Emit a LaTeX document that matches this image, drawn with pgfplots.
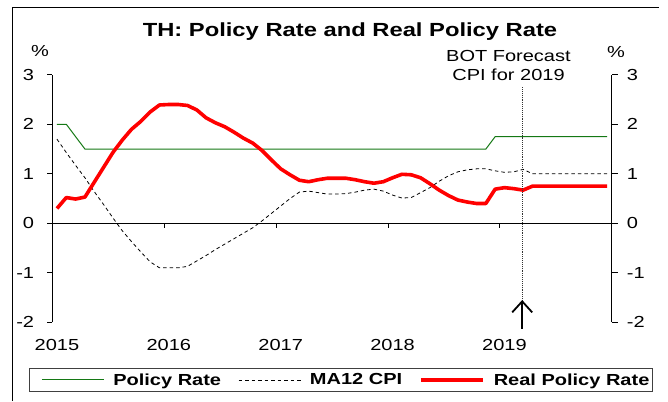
\documentclass[border=0pt]{standalone}
\usepackage{fontspec}
\setmainfont{Liberation Sans}[FakeStretch=1.25]
\usepackage{pgfplots}
\pgfplotsset{compat=1.18}
\usepackage{pgfplotstable}
\usetikzlibrary{arrows.meta}
\definecolor{pgreen}{RGB}{20,120,20}

\pgfplotstableread{
x policy cpi real
2015.0417 2.00 1.70 0.30
2015.1250 2.00 1.43 0.52
2015.2083 1.75 1.17 0.49
2015.2917 1.50 0.92 0.53
2015.3750 1.50 0.64 0.83
2015.4583 1.50 0.38 1.13
2015.5417 1.50 0.11 1.43
2015.6250 1.50 -0.15 1.68
2015.7083 1.50 -0.37 1.90
2015.7917 1.50 -0.58 2.06
2015.8750 1.50 -0.78 2.25
2015.9583 1.50 -0.90 2.39
2016.0417 1.50 -0.90 2.40
2016.1250 1.50 -0.90 2.40
2016.2083 1.50 -0.87 2.38
2016.2917 1.50 -0.76 2.29
2016.3750 1.50 -0.65 2.13
2016.4583 1.50 -0.53 2.03
2016.5417 1.50 -0.42 1.95
2016.6250 1.50 -0.31 1.84
2016.7083 1.50 -0.20 1.72
2016.7917 1.50 -0.09 1.62
2016.8750 1.50 0.05 1.47
2016.9583 1.50 0.20 1.28
2017.0417 1.50 0.35 1.10
2017.1250 1.50 0.50 0.98
2017.2083 1.50 0.63 0.87
2017.2917 1.50 0.65 0.84
2017.3750 1.50 0.62 0.88
2017.4583 1.50 0.59 0.91
2017.5417 1.50 0.59 0.91
2017.6250 1.50 0.60 0.91
2017.7083 1.50 0.63 0.88
2017.7917 1.50 0.67 0.84
2017.8750 1.50 0.69 0.81
2017.9583 1.50 0.65 0.84
2018.0417 1.50 0.57 0.92
2018.1250 1.50 0.51 0.99
2018.2083 1.50 0.52 0.98
2018.2917 1.50 0.62 0.92
2018.3750 1.50 0.72 0.80
2018.4583 1.50 0.85 0.67
2018.5417 1.50 0.96 0.56
2018.6250 1.50 1.04 0.47
2018.7083 1.50 1.08 0.43
2018.7917 1.50 1.10 0.40
2018.8750 1.50 1.10 0.40
2018.9583 1.75 1.06 0.69
2019.0417 1.75 1.03 0.72
2019.1250 1.75 1.04 0.70
2019.2083 1.75 1.09 0.67
2019.2917 1.75 1.00 0.75
2019.3750 1.75 1.00 0.75
2019.4583 1.75 1.00 0.75
2019.5417 1.75 1.00 0.75
2019.6250 1.75 1.00 0.75
2019.7083 1.75 1.00 0.75
2019.7917 1.75 1.00 0.75
2019.8750 1.75 1.00 0.75
2019.9583 1.75 1.00 0.75
}\data

\begin{document}
\begin{tikzpicture}
\useasboundingbox (0pt,0pt) rectangle (668pt,401pt);
% frame
\draw[line width=1pt] (12.7pt,0pt) -- (12.7pt,393.7pt) -- (659pt,393.7pt);
% title
\node[anchor=base, font=\fontsize{19}{22}\selectfont\bfseries, inner sep=0pt] at (350pt,364.3pt) {TH: Policy Rate and Real Policy Rate};
% percent labels
\node[font=\fontsize{16}{19}\selectfont, inner sep=0pt] at (40pt,350pt) {\%};
\node[font=\fontsize{16}{19}\selectfont, inner sep=0pt] at (616pt,348.5pt) {\%};
% annotation
\node[anchor=base, font=\fontsize{16}{19}\selectfont, inner sep=0pt] at (508.4pt,339.3pt) {BOT Forecast};
\node[anchor=base, font=\fontsize{16}{19}\selectfont, inner sep=0pt] at (508.5pt,320pt) {CPI for 2019};
% legend box
\draw[line width=1pt, black!75] (29.5pt,9.5pt) rectangle (652pt,32.5pt);

\begin{axis}[
  at={(52.3pt,78.7pt)}, anchor=south west,
  width=559.4pt, height=247.5pt, scale only axis,
  xmin=2015, xmax=2020, ymin=-2, ymax=3,
  axis y line*=left, axis x line*=bottom,
  x axis line style={draw=none},
  y axis line style={-, line width=0.8pt},
  xtick={2015.0417,2016.0417,2017.0417,2018.0417,2019.0417},
  xticklabels={2015,2016,2017,2018,2019},
  xtick style={draw=none},
  ytick={-2,-1,0,1,2,3},
  yticklabels={-2,-1,0,1,2,3},
  tick align=outside, major tick length=5pt,
  ytick style={line width=0.8pt, black},
  tick label style={font=\fontsize{16}{19}\selectfont},
  yticklabel style={inner sep=0pt, xshift=-13pt},
  xticklabel style={inner sep=0pt, yshift=-12pt},
  /pgf/number format/assume math mode=true,
  clip=false,
  legend columns=3,
  legend style={draw=none, fill=none, at={(-0.020,-0.2331)}, anchor=west,
    font=\fontsize{16}{19}\selectfont\bfseries, inner sep=0pt,
    nodes={inner sep=2pt},
    /tikz/every odd column/.append style={column sep=7pt},
    /tikz/every even column/.append style={column sep=15pt}},
  legend image code/.code={\draw[#1] (0pt,0pt) -- (62pt,0pt);},
]
\addplot[pgreen, line width=1pt] table[x=x,y=policy]{\data};
\addlegendentry{Policy Rate}
\addplot[black, line width=0.8pt, dash pattern=on 3.5pt off 3pt] table[x=x,y=cpi]{\data};
\addlegendentry{MA12 CPI}
\addplot[red, line width=3.6pt, line join=round] table[x=x,y=real]{\data};
\addlegendentry{Real Policy Rate}
\draw[line width=0.8pt] (axis cs:2015,0) -- (axis cs:2020,0);
\draw[line width=0.8pt] (axis cs:2016,0) -- ++(0pt,-5pt);
\draw[line width=0.8pt] (axis cs:2017,0) -- ++(0pt,-5pt);
\draw[line width=0.8pt] (axis cs:2018,0) -- ++(0pt,-5pt);
\draw[line width=0.8pt] (axis cs:2019,0) -- ++(0pt,-5pt);
\draw[densely dotted, line width=0.9pt, black!80] (axis cs:2019.2,2.75) -- (axis cs:2019.2,-1.55);
\draw[line width=1.8pt, -{Straight Barb[length=11pt,width=20pt,line width=1.8pt]}] (axis cs:2019.2,-2.13) -- (axis cs:2019.2,-1.55);
\end{axis}

\begin{axis}[
  at={(52.3pt,78.7pt)}, anchor=south west,
  width=559.4pt, height=247.5pt, scale only axis,
  xmin=2015, xmax=2020, ymin=-2, ymax=3,
  axis y line*=right, axis x line=none,
  y axis line style={-, line width=0.8pt},
  ytick={-2,-1,0,1,2,3},
  yticklabels={-2,-1,0,1,2,3},
  tick align=outside, major tick length=6pt,
  ytick style={line width=0.8pt, black},
  tick label style={font=\fontsize{16}{19}\selectfont},
  yticklabel style={inner sep=0pt, xshift=9pt},
  /pgf/number format/assume math mode=true,
]
\addplot[draw=none] coordinates {(2015,0) (2020,0)};
\end{axis}
\end{tikzpicture}
\end{document}
